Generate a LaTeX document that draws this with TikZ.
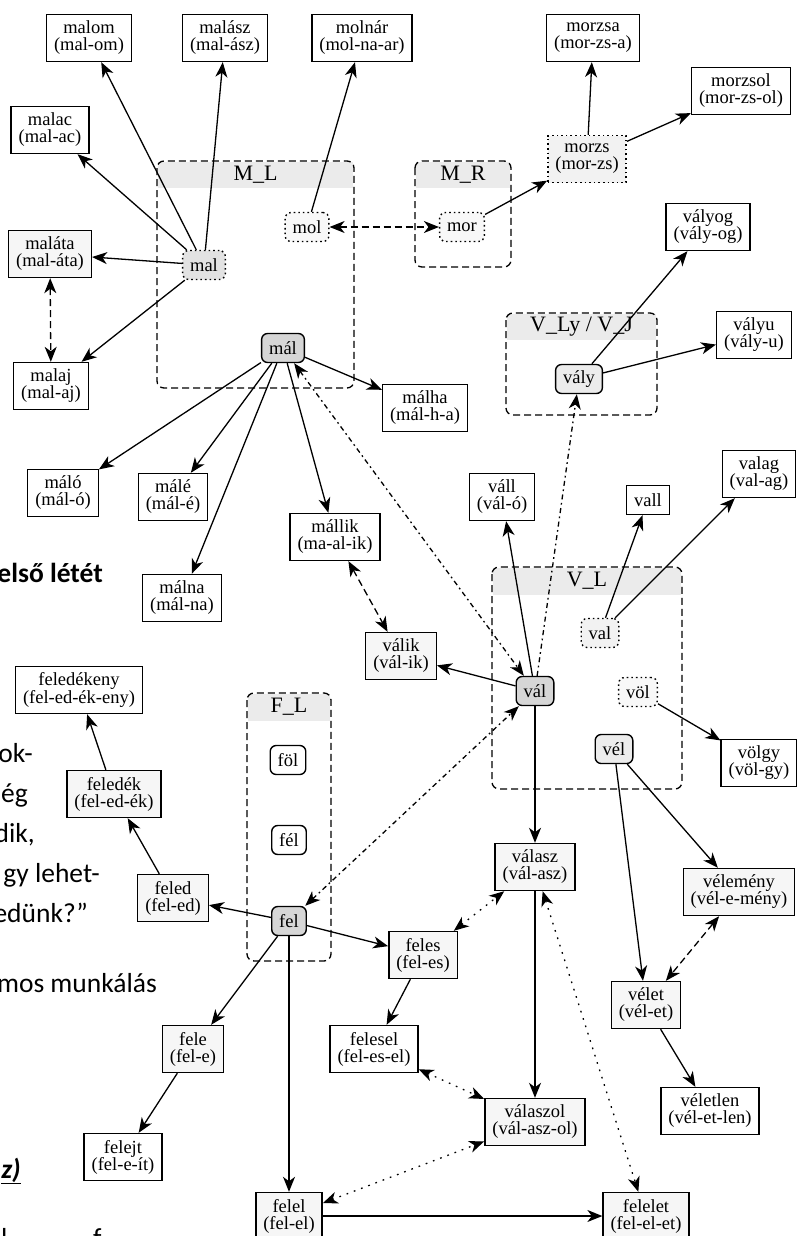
\documentclass[tikz,border=0pt]{standalone}
\usepackage{fontspec}
\setmainfont{Liberation Serif}
\newfontfamily\bgfont{Carlito}
\usetikzlibrary{arrows.meta}
\definecolor{hdr}{HTML}{EBEBEB}
\definecolor{lightfill}{HTML}{F6F6F6}
\definecolor{gfill}{HTML}{D6D6D6}
\definecolor{mfill}{HTML}{E2E2E2}
\definecolor{efill}{HTML}{ECECEC}
\definecolor{pfill}{HTML}{F2F2F2}
\definecolor{vfill}{HTML}{F8F8F8}
\begin{document}
\begin{tikzpicture}[x=1pt,y=-1pt,
  nf/.style={font=\fontsize{18.5}{17}\selectfont},
  wbox/.style={draw, line width=1.4pt, rectangle, align=center, inner xsep=7.5pt, inner ysep=2pt, minimum height=47pt, nf, fill=white},
  lbox/.style={wbox, fill=lightfill},
  sbox/.style={wbox, minimum height=29pt},
  rootbox/.style={draw, line width=1.4pt, rounded corners=6pt, inner xsep=7.5pt, inner ysep=2pt, minimum height=29pt, nf},
  dotbox/.style={rootbox, dash pattern=on 1.6pt off 3pt},
  clus/.style={draw, line width=1.3pt, dash pattern=on 7pt off 4pt, rounded corners=7pt},
  clab/.style={font=\fontsize{22}{22}\selectfont, inner sep=0pt},
  arr/.style={line width=1.3pt, -{Stealth[length=15pt,width=12pt,inset=4.5pt]}},
  darr/.style={line width=1.3pt, {Stealth[length=15pt,width=12pt,inset=4.5pt]}-{Stealth[length=15pt,width=12pt,inset=4.5pt]}},
  dashd/.style={dash pattern=on 7pt off 4pt},
  dotd/.style={dash pattern=on 1.7pt off 6pt},
  dashdotd/.style={dash pattern=on 5pt off 3.5pt on 1.7pt off 3.5pt},
  bg/.style={font=\bgfont\fontsize{27.5}{27.5}\selectfont, inner sep=0pt}
]
\useasboundingbox (0,0) rectangle (797,1236);
\fill[white] (0,0) rectangle (797,1236);

% background slide text fragments
\node[bg, anchor=base east] (t1) at (103,582) {\bfseries első létét};
\node[bg, anchor=base east] (t2) at (33,762) {ok-};
\node[bg, anchor=base east] (t3) at (28,802) {ég};
\node[bg, anchor=base east] (t4) at (35,842) {dik,};
\node[bg, anchor=base east] (t5) at (100,882) {gy lehet-};
\node[bg, anchor=base east] (t6) at (88,922) {edünk?”};
\node[bg, anchor=base east] (t7) at (157,992) {mos munkálás};
\node[bg, anchor=base east] (t8) at (21,1178) {\bfseries\itshape\underline{z)}};
\node[bg, anchor=base west] (t9) at (1,1247) {l};
\node[bg, anchor=base west] (t10) at (93,1247) {f};

% clusters
\fill[hdr] (157.6,161.6) rectangle (353.4,188);
\draw[clus] (157,161) rectangle (354,388);
\node[clab] (cML) at (255.5,175) {M\_L};
\fill[hdr] (415.6,161.6) rectangle (510.4,188);
\draw[clus] (415,161) rectangle (511,267);
\node[clab] (cMR) at (463,175) {M\_R};
\fill[hdr] (506.6,313.6) rectangle (656.4,340);
\draw[clus] (506,313) rectangle (657,415);
\node[clab] (cVLy) at (581.5,327) {V\_Ly / V\_J};
\fill[hdr] (492.6,567.6) rectangle (681.4,595);
\draw[clus] (492,567) rectangle (682,789);
\node[clab] (cVL) at (587,581) {V\_L};
\fill[hdr] (247.6,693.6) rectangle (330.4,721);
\draw[clus] (247,693) rectangle (331,961);
\node[clab] (cFL) at (289,707) {F\_L};

% nodes
\node[wbox] (malom) at (89,38) {malom\\(mal-om)};
\node[wbox] (malasz) at (225,38) {malász\\(mal-ász)};
\node[wbox] (molnar) at (362,38) {molnár\\(mol-na-ar)};
\node[wbox] (morzsa) at (593,38) {morzsa\\(mor-zs-a)};
\node[wbox] (morzsol) at (741,91) {morzsol\\(mor-zs-ol)};
\node[wbox] (malac) at (50,130) {malac\\(mal-ac)};
\node[wbox, fill=pfill, dash pattern=on 1.6pt off 3pt] (morzs) at (587,159) {morzs\\(mor-zs)};
\node[dotbox, fill=vfill] (mol) at (307,227) {mol};
\node[dotbox, fill=vfill] (mor) at (462,227) {mor};
\node[wbox] (valyog) at (708,227) {vályog\\(vály-og)};
\node[lbox] (malata) at (50,254) {maláta\\(mal-áta)};
\node[dotbox, fill=mfill] (mal) at (204,265) {mal};
\node[wbox] (valyu) at (754,335) {vályu\\(vály-u)};
\node[rootbox, fill=gfill] (maal) at (283,348) {mál};
\node[rootbox, fill=efill] (valy) at (579,379) {vály};
\node[wbox] (malaj) at (51,386) {malaj\\(mal-aj)};
\node[wbox] (malha) at (425,408) {málha\\(mál-h-a)};
\node[wbox] (valag) at (759,474) {valag\\(val-ag)};
\node[wbox] (malo) at (63,493) {máló\\(mál-ó)};
\node[wbox] (male) at (173,497) {málé\\(mál-é)};
\node[wbox] (vaall) at (502,497) {váll\\(vál-ó)};
\node[sbox] (vall) at (648,500) {vall};
\node[wbox] (mallik) at (335,537) {mállik\\(ma-al-ik)};
\node[wbox] (malna) at (182,598) {málna\\(mál-na)};
\node[dotbox, fill=pfill] (val) at (600,633) {val};
\node[lbox] (valik) at (401,656) {válik\\(vál-ik)};
\node[wbox] (feledekeny) at (79,690) {feledékeny\\(fel-ed-ék-eny)};
\node[rootbox, fill=gfill] (vaal) at (535,691) {vál};
\node[dotbox, fill=vfill] (vol) at (638,692) {völ};
\node[rootbox, fill=efill] (vel) at (614,749) {vél};
\node[rootbox, fill=white] (fol) at (288,760) {föl};
\node[wbox] (volgy) at (759,763) {völgy\\(völ-gy)};
\node[lbox] (feledek) at (114,794) {feledék\\(fel-ed-ék)};
\node[rootbox, fill=white] (feel) at (289,840) {fél};
\node[lbox] (valasz) at (535,867) {válasz\\(vál-asz)};
\node[lbox] (velemeny) at (739,892) {vélemény\\(vél-e-mény)};
\node[lbox] (feled) at (173,898) {feled\\(fel-ed)};
\node[rootbox, fill=gfill] (fel) at (289,921) {fel};
\node[lbox] (feles) at (423,955) {feles\\(fel-es)};
\node[lbox] (velet) at (646,1005) {vélet\\(vél-et)};
\node[lbox] (fele) at (193,1049) {fele\\(fel-e)};
\node[wbox] (felesel) at (374,1049) {felesel\\(fel-es-el)};
\node[wbox] (veletlen) at (710,1111) {véletlen\\(vél-et-len)};
\node[lbox] (valaszol) at (535,1122) {válaszol\\(vál-asz-ol)};
\node[wbox] (felejt) at (123,1157) {felejt\\(fel-e-ít)};
\node[lbox] (felel) at (289,1216) {felel\\(fel-el)};
\node[lbox] (felelet) at (646,1216) {felelet\\(fel-el-et)};

% solid edges
\draw[arr] (mal) -- (malom);
\draw[arr] (mal) -- (malasz);
\draw[arr] (mal) -- (malac);
\draw[arr] (mal) -- (malata);
\draw[arr] (mal) -- (malaj);
\draw[arr] (mol) -- (molnar);
\draw[arr] (mor) -- (morzs);
\draw[arr] (morzs) -- (morzsa);
\draw[arr] (morzs) -- (morzsol);
\draw[arr] (maal) -- (malha);
\draw[arr] (maal) -- (malo);
\draw[arr] (maal) -- (male);
\draw[arr] (maal) -- (malna);
\draw[arr] (maal) -- (mallik);
\draw[arr] (valy) -- (valyog);
\draw[arr] (valy) -- (valyu);
\draw[arr] (vaal) -- (vaall);
\draw[arr] (vaal) -- (valik);
\draw[arr] (vaal) -- (valasz);
\draw[arr] (val) -- (vall);
\draw[arr] (val) -- (valag);
\draw[arr] (vol) -- (volgy);
\draw[arr] (vel) -- (velemeny);
\draw[arr] (vel) -- (velet);
\draw[arr] (velet) -- (veletlen);
\draw[arr] (valasz) -- (valaszol);
\draw[arr] (fel) -- (feled);
\draw[arr] (fel) -- (feles);
\draw[arr] (fel) -- (fele);
\draw[arr] (fel) -- (felel);
\draw[arr] (feled) -- (feledek);
\draw[arr] (feledek) -- (feledekeny);
\draw[arr] (fele) -- (felejt);
\draw[arr] (feles) -- (felesel);
\draw[arr] (felel) -- (felelet);

% dashed two-way
\draw[darr, dashd] (malata) -- (malaj);
\draw[darr, dashd] (mol) -- (mor);
\draw[darr, dashd] (mallik) -- (valik);
\draw[darr, dashd] (velemeny) -- (velet);

% dash-dotted
\draw[darr, dashdotd] (maal) -- (vaal);
\draw[arr, dashdotd] (vaal) -- (valy);
\draw[darr, dashdotd] (fel) -- (vaal);

% dotted
\draw[darr, dotd] (feles) -- (valasz);
\draw[darr, dotd] (valasz) -- (felelet);
\draw[darr, dotd] (felesel) -- (valaszol);
\draw[darr, dotd] (felel) -- (valaszol);
\end{tikzpicture}
\end{document}
